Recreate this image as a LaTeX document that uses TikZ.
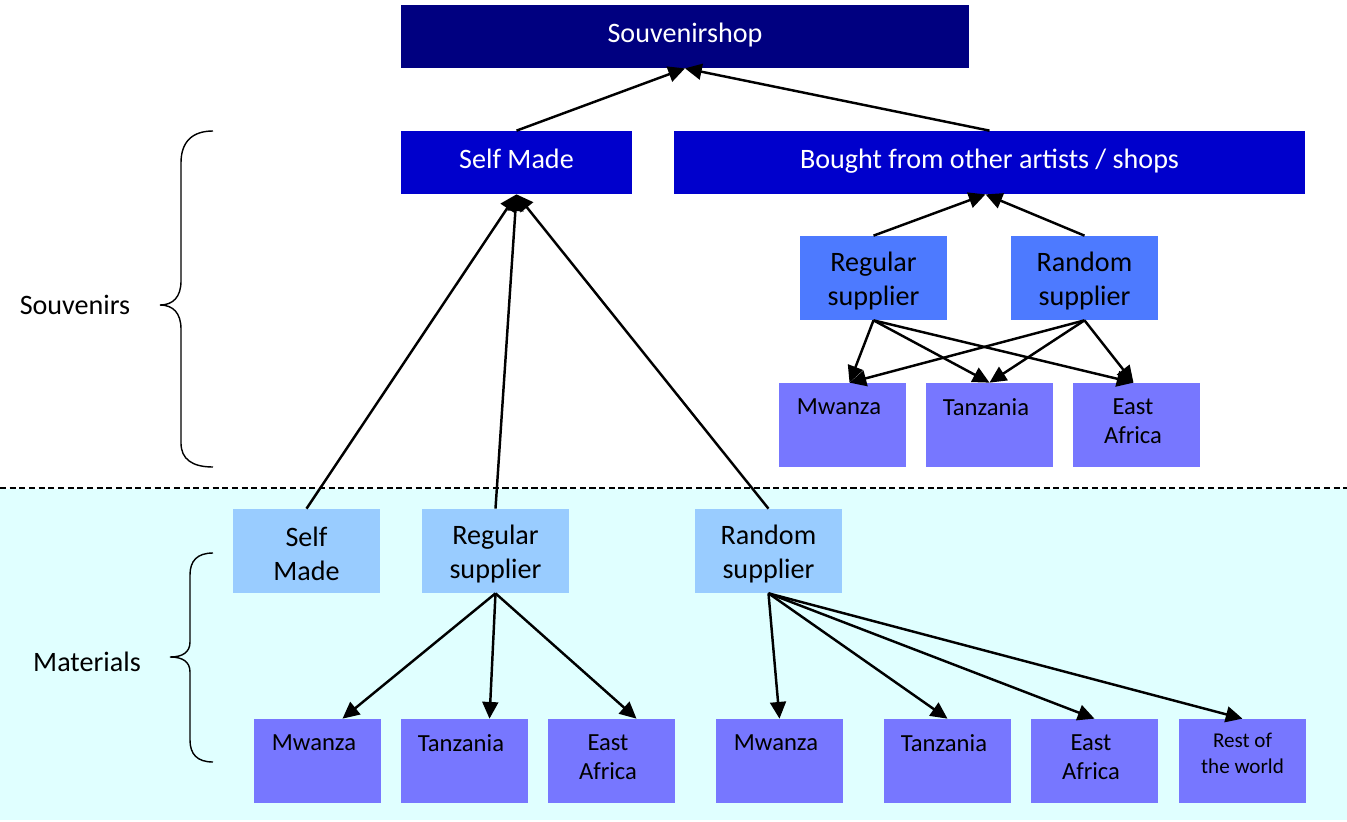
\documentclass[tikz,border=0pt]{standalone}
\usepackage{fontspec}
\setmainfont{Carlito}
\usetikzlibrary{arrows.meta}
\definecolor{shopnavy}{HTML}{000080}
\definecolor{kindblue}{HTML}{0000CC}
\definecolor{buyblue}{HTML}{4D7AFF}
\definecolor{areablue}{HTML}{7777FF}
\definecolor{matblue}{HTML}{99CCFF}
\definecolor{matback}{HTML}{E0FFFF}

\begin{document}
\begin{tikzpicture}[x=0.02cm, y=-0.02cm]

    \tikzset{
      bigfont/.style={font=\fontsize{16}{19}\selectfont},
      shopbox/.style={bigfont, fill=shopnavy, text=white, minimum width=11.36cm, minimum height=1.26cm, inner sep=0pt, text height=11.5pt, text depth=4.5pt},
      kindbox/.style={bigfont, fill=kindblue, text=white, minimum height=1.26cm, inner sep=0pt, text height=11.5pt, text depth=4.5pt},
      supbox/.style={bigfont, fill=#1, align=center, minimum width=2.94cm, minimum height=1.68cm, inner sep=0pt},
      suptext/.style={bigfont, align=center, yshift=-1.6pt},
      leaf/.style={fill=areablue, minimum width=2.54cm, minimum height=1.68cm, inner sep=0pt},
      leaftext/.style={anchor=north, yshift=-9pt, xshift=-2pt, align=center, inner sep=0pt, font=\fontsize{14}{16.5}\selectfont},
      arrow/.style={line width=1.4pt, -{Triangle[length=9.5pt, width=9pt]}},
    }
    \useasboundingbox (0,0) rectangle (1347,822);

    % materials area
    \fill[matback] (0,489) rectangle (1347,820);
    \draw[dash pattern=on 3.5pt off 2pt, line width=0.8pt] (0,488) -- (1347,488);

    % souvenirs
    \node[shopbox] (shop) at (685,36.5) {Souvenirshop};
    \node[kindbox, minimum width=4.62cm] (selfS) at (516.5,162.5) {Self Made};
    \node[kindbox, minimum width=12.62cm] (bought) at (989.5,162.5) {Bought from other artists / shops};
    \node[supbox=buyblue] (regS) at (873.5,278) {};
    \node[supbox=buyblue] (ranS) at (1084.5,278) {};
    \node[suptext] (regSt) at (regS) {Regular\\supplier};
    \node[suptext] (ranSt) at (ranS) {Random\\supplier};
    \node[leaf, label={[leaftext]north:Mwanza}] (mwS) at (842.5,425) {};
    \node[leaf, label={[leaftext]north:Tanzania}] (tzS) at (989.5,425) {};
    \node[leaf, label={[leaftext]north:East\\Africa}] (eaS) at (1136.5,425) {};

    % materials
    \node[supbox=matblue] (selfM) at (306.5,551) {};
    \node[supbox=matblue] (regM) at (495.5,551) {};
    \node[supbox=matblue] (ranM) at (768.5,551) {};
    \node[suptext] (selfMt) at (selfM) {Self\\Made};
    \node[suptext] (regMt) at (regM) {Regular\\supplier};
    \node[suptext] (ranMt) at (ranM) {Random\\supplier};
    \node[leaf, label={[leaftext]north:Mwanza}] (mwA) at (317.5,761) {};
    \node[leaf, label={[leaftext]north:Tanzania}] (tzA) at (464.5,761) {};
    \node[leaf, label={[leaftext]north:East\\Africa}] (eaA) at (611.5,761) {};
    \node[leaf, label={[leaftext]north:Mwanza}] (mwB) at (779.5,761) {};
    \node[leaf, label={[leaftext]north:Tanzania}] (tzB) at (947.5,761) {};
    \node[leaf, label={[leaftext]north:East\\Africa}] (eaB) at (1094.5,761) {};
    \node[leaf, label={[leaftext, yshift=1pt, xshift=2pt, font=\fontsize{12}{14.5}\selectfont]north:Rest of\\the world}] (rwB) at (1242.5,761) {};

    \draw[arrow] (selfS.north) -- (shop.south);
    \draw[arrow] (bought.north) -- (shop.south);
    \draw[arrow] (regS.north) -- ([xshift=-0.08cm]bought.south);
    \draw[arrow] (ranS.north) -- ([xshift=-0.08cm]bought.south);
    \foreach \from in {regS,ranS} {
      \draw[arrow] (\from.south) -- ([xshift=0.14cm]mwS.north);
      \draw[arrow] (\from.south) -- (tzS.north);
      \draw[arrow] (\from.south) -- ([xshift=-0.06cm]eaS.north);
    }
    \foreach \from in {selfM,regM,ranM}
      \draw[arrow] (\from.north) -- (selfS.south);
    \foreach \to in {mwA,tzA,eaA}
      \draw[arrow] (regM.south) -- ([xshift=0.5cm]\to.north);
    \foreach \to in {mwB,tzB,eaB,rwB}
      \draw[arrow] (ranM.south) -- (\to.north);

    % braces
    \draw[line width=0.8pt] (213,131) .. controls (192,131) and (181,142) .. (181,163) -- (181,281)
      .. controls (181,297) and (173,305) .. (160,305) .. controls (173,305) and (181,313) .. (181,329)
      -- (181,443) .. controls (181,459) and (192,467) .. (213,467);
    \draw[line width=0.8pt] (213,553) .. controls (197,553) and (190,561) .. (190,575) -- (190,642)
      .. controls (190,652) and (183,657) .. (170,657) .. controls (183,657) and (190,662) .. (190,672)
      -- (190,740) .. controls (190,754) and (197,762) .. (213,762);
    \node[bigfont] (souv) at (75,305) {Souvenirs};
    \node[bigfont] (mat) at (87,662) {Materials};

\end{tikzpicture}
\end{document}
